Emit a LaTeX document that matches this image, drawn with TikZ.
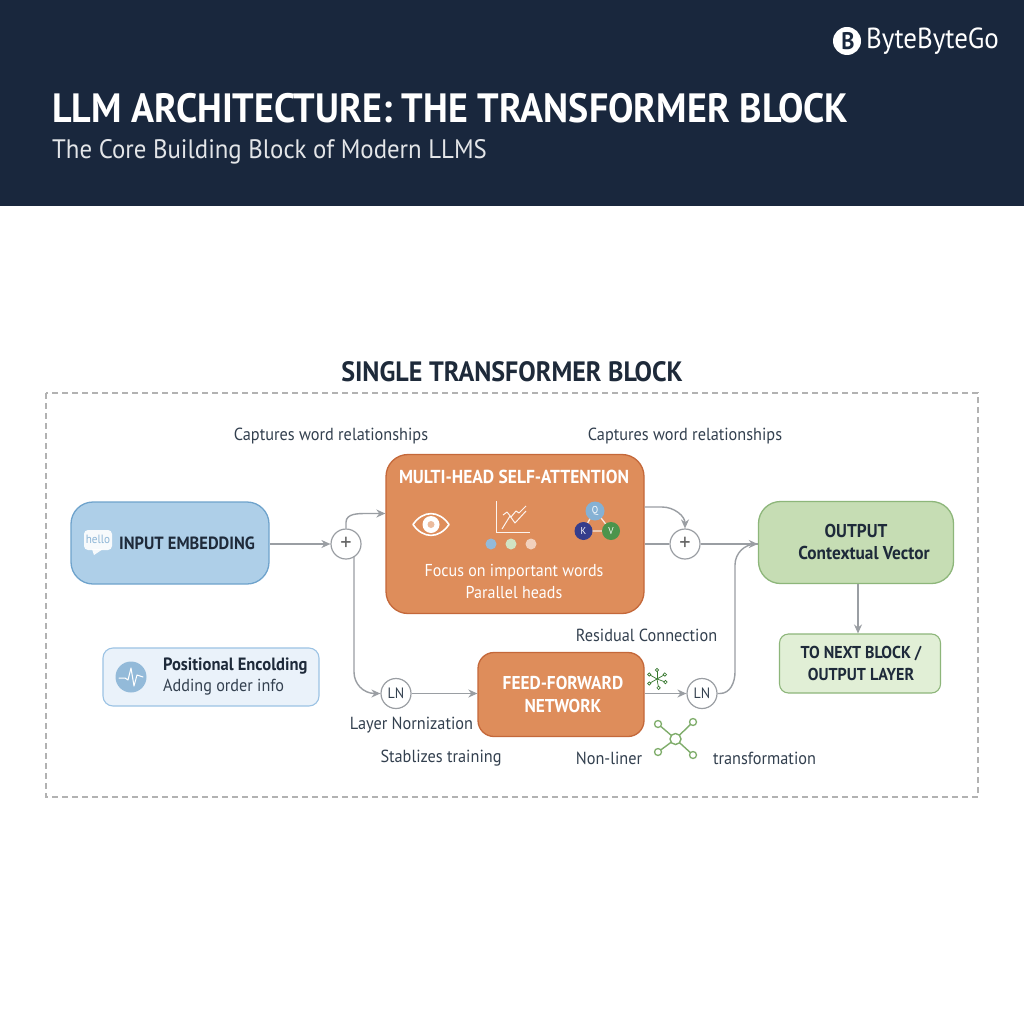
\documentclass[tikz,border=0pt]{standalone}
\usepackage{fontspec}
\setmainfont[FakeStretch=0.93]{PT Sans}
\usetikzlibrary{arrows.meta,positioning,calc}
\definecolor{navy}{HTML}{19273D}
\definecolor{ink}{HTML}{1E2A3A}
\definecolor{txt}{HTML}{33404F}
\definecolor{wire}{HTML}{9A9EA3}
\definecolor{blueF}{HTML}{AECFE8}
\definecolor{blueE}{HTML}{6FA3CC}
\definecolor{orF}{HTML}{DE8D5B}
\definecolor{orE}{HTML}{C4683A}
\definecolor{grF}{HTML}{C6DDB4}
\definecolor{grE}{HTML}{8DB67A}
\definecolor{gr2F}{HTML}{E1EFD6}
\definecolor{posF}{HTML}{EAF2FA}
\definecolor{posE}{HTML}{9CC3E4}
\definecolor{icon}{HTML}{7FAD6B}
\tikzset{
  wirearrow/.style={draw=wire,line width=1.4pt,-{Stealth[length=9pt,width=8pt]}},
  wireline/.style={draw=wire,line width=1.4pt},
  circ/.style={circle,draw=wire,line width=1.2pt,fill=white,minimum size=30pt,inner sep=0pt,text=txt,font=\fontsize{15}{15}\selectfont},
  plus/.style={circ,text=black!60,font=\fontsize{24}{24}\selectfont},
  lab/.style={text=txt,font=\fontsize{17.5}{20}\selectfont,inner sep=0pt},
  boxt/.style={rounded corners=22pt,line width=1.3pt,align=center,inner sep=0pt},
  dot/.style={circle,inner sep=0pt,minimum size=#1},
}
\begin{document}
\begin{tikzpicture}[x=1pt,y=-1pt]
\useasboundingbox (0,0) rectangle (1024,1024);
\fill[white] (0,0) rectangle (1024,1024);
\fill[navy] (0,0) rectangle (1024,206);
% logo
\node[circle,fill=white,minimum size=28pt,inner sep=0pt] (logo) at (847,41) {};
\node[text=navy,inner sep=0pt,font=\fontsize{24}{24}\selectfont\bfseries] (logob) at (848,41) {B};
\node[anchor=west,text=white,inner sep=0pt,font=\fontsize{29}{30}\selectfont] (brand) at (866,41.5) {ByteByteGo};
\node[anchor=west,text=white,inner sep=0pt,font=\fontsize{40.9}{44}\selectfont\bfseries] (title) at (52,108) {LLM ARCHITECTURE: THE TRANSFORMER BLOCK};
\node[anchor=west,text=white!88!navy,inner sep=0pt,font=\fontsize{26.7}{30}\selectfont] (sub) at (52,152) {The Core Building Block of Modern LLMS};
% frame
\node[text=ink,inner sep=0pt,font=\fontsize{28}{32}\selectfont\bfseries] (head) at (512,371.5) {SINGLE TRANSFORMER BLOCK};
\draw[draw=black!30,line width=1.1pt,dash pattern=on 6pt off 4pt] (46,393) rectangle (978,797);
% labels
\node[lab] (c1) at (331,436) {Captures word relationships};
\node[lab] (c2) at (685,436) {Captures word relationships};
% input
\node[boxt,draw=blueE,fill=blueF,minimum width=198pt,minimum height=82pt] (input) at (170,543) {};
\node[anchor=west,text=ink,inner sep=0pt,font=\fontsize{17.7}{22}\selectfont\bfseries] (inputt) at (119,543) {INPUT EMBEDDING};
\fill[white,opacity=.9,rounded corners=4pt] (84,530) rectangle (112,550);
\fill[white,opacity=.9] (92,549) -- (94,555) -- (103,549) -- cycle;
\node[text=blueE!80,inner sep=0pt,font=\fontsize{12}{12}\selectfont] (hello) at (98,539) {hello};
% positional
\node[draw=posE,fill=posF,rounded corners=10pt,line width=1.1pt,minimum width=216pt,minimum height=58pt] (pos) at (211,677) {};
\node[circle,fill=blueE!75,minimum size=31pt,inner sep=0pt] (wave) at (131,677) {};
\draw[white,line width=1pt,line cap=round,line join=round] (119,678) -- (125,678) -- (128,680) -- (131,668) -- (134,686) -- (137,675) -- (143,677);
\node[anchor=west,text=ink,inner sep=0pt,font=\fontsize{17.8}{20}\selectfont\bfseries] (post) at (163,666) {Positional Encolding};
\node[anchor=west,text=txt,inner sep=0pt,font=\fontsize{17.4}{20}\selectfont] (poss) at (163,687.5) {Adding order info};
% multi-head
\node[boxt,draw=orE,fill=orF,minimum width=258pt,minimum height=159pt] (mh) at (515,534) {};
\node[text=white,inner sep=0pt,font=\fontsize{18.8}{22}\selectfont\bfseries] (mht) at (514,477) {MULTI-HEAD SELF-ATTENTION};
\node[text=white,inner sep=0pt,align=center,font=\fontsize{17.25}{22}\selectfont] (mhs) at (514,581.5) {Focus on important words\\Parallel heads};
% eye
\draw[white,line width=1.6pt,line join=round] (413,524.5) .. controls (423,510) and (439,510) .. (449,524.5) .. controls (439,539) and (423,539) .. (413,524.5) -- cycle;
\fill[white] (431,524.5) circle (8.5pt);
\fill[orF!60!white] (431,524.5) circle (3.5pt);
% chart
\draw[white!90!orF,line width=1pt] (496.5,501) -- (496.5,532) -- (530,532);
\draw[white!90!orF,line width=1pt,line join=round] (502,529) -- (510,516) -- (515,523) -- (526,511);
\draw[white!90!orF,line width=1pt,line join=round] (503,515) -- (507,512) -- (511,517) -- (516,511) -- (519,513) -- (526,506);
\node[dot=11pt,fill=blueE!75!white] (d1) at (491,544) {};
\node[dot=11pt,fill=grF!80!white] (d2) at (511,544) {};
\node[dot=11pt,fill=orF!40!white] (d3) at (531,544) {};
% qkv
\draw[white!80!orF,line width=1.3pt] (595,510) -- (583,531) -- (611,531) -- cycle;
\node[dot=19pt,fill=blueE!85!white,text=white,font=\fontsize{10}{10}\selectfont] (q) at (595,511) {Q};
\node[dot=18pt,fill=blue!30!navy!85,text=white,font=\fontsize{10}{10}\selectfont] (k) at (583.5,531) {K};
\node[dot=18pt,fill=green!40!black!70,text=white,font=\fontsize{10}{10}\selectfont] (v) at (611,531) {V};
% feed-forward
\node[boxt,rounded corners=16pt,draw=orE,fill=orF,minimum width=166pt,minimum height=84pt] (ff) at (561,694.5) {};
\node[text=white,inner sep=0pt,align=center,font=\fontsize{18.6}{23}\selectfont\bfseries] (fft) at (563,694.5) {FEED-FORWARD\\NETWORK};
% output
\node[boxt,draw=grE,fill=grF,minimum width=195pt,minimum height=82pt] (out) at (856,542.5) {};
\node[text=ink,inner sep=0pt,align=center,font=\fontsize{18.6}{22}\selectfont\bfseries] (outt) at (856,541.5) {OUTPUT\\\hspace*{16pt}Contextual Vector};
\node[draw=grE,fill=gr2F,rounded corners=9pt,line width=1.1pt,minimum width=161pt,minimum height=59pt,align=center,inner sep=0pt] (next) at (860,663.5) {};
\node[text=ink,inner sep=0pt,align=center,font=\fontsize{17.2}{22}\selectfont\bfseries] (nextt) at (861,663.5) {TO NEXT BLOCK /\\OUTPUT LAYER};
% circles
\node[plus] (p1) at (346,544) {+};
\node[plus] (p2) at (685,544) {+};
\node[circ] (ln1) at (396,693.5) {LN};
\node[circ] (ln2) at (702,693.5) {LN};
% wires
\draw[wirearrow] (input.east |- p1) -- (p1.west);
\draw[wirearrow] (p1.north) -- ++(0,-6) to[out=90,in=180] (368,513.5) coordinate (a2) -- (mh.west |- a2);
\draw[wirearrow] (354,557) coordinate (b1) -- (354,672) to[out=-90,in=180] (375,693.5) coordinate (b2) -- (ln1.west);
\draw[wirearrow] (ln1.east) -- (ff.west |- ln1);
\draw[wireline] (mh.east |- p2) -- (p2.west);
\coordinate (c2o) at (mh.east |- 0,507);
\draw[wirearrow] (c2o) -- (662,507) to[out=0,in=90] (p2.north);
\draw[wireline] (p2.east) -- (out.west |- p2);
\draw[wirearrow] (ff.east |- ln2) -- (ln2.west);
\draw[wirearrow] (ln2.east) -- (720,693.5) to[out=0,in=-90] (735,672) -- (735,565) to[out=90,in=180] (756,544) -- (out.west |- 0,544);
\draw[wirearrow] (out.south -| 858,0) -- (next.north -| 858,0);
% icons
\coordinate (ic1) at (657,679);
\foreach \a in {20,80,150,210,270,330}{
  \draw[icon!70!green!60!black,line width=.7pt] (ic1) -- ++(\a:8);
  \draw[icon!70!green!60!black,line width=.7pt,fill=white] (ic1) ++(\a:9) circle (1.7pt);
}
\coordinate (ic2) at (675.5,739);
\foreach \px/\py in {658/724, 693/722, 658/752, 693/755}{
  \draw[icon,line width=1.4pt] (ic2) -- (\px,\py);
  \draw[icon,line width=1.3pt,fill=white] (\px,\py) circle (3.5pt);
}
\draw[icon,line width=1.4pt,fill=white] (ic2) circle (5.5pt);
% text labels
\node[lab] (resid) at (646.5,635) {Residual Connection};
\node[lab] (layer) at (411.5,725) {Layer Nornization};
\node[lab] (stab) at (441,758) {Stablizes training};
\node[lab] (nl) at (609,758) {Non-liner};
\node[lab] (tr) at (764.5,758) {transformation};
\end{tikzpicture}
\end{document}
